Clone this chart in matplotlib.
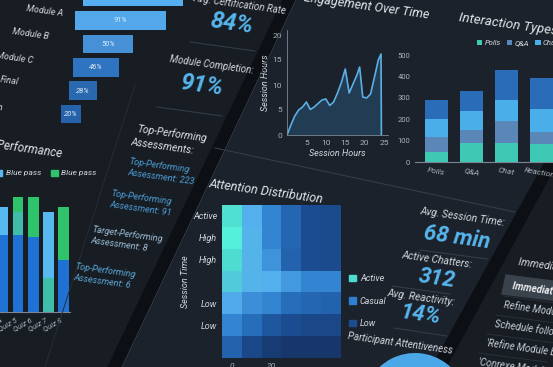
import matplotlib.pyplot as plt
from matplotlib.patches import Polygon, Patch
from matplotlib.lines import Line2D
from matplotlib.colors import LinearSegmentedColormap

# ---- data ----
funnel_stages = ["Enrollment", "Module A", "Module B", "Module C", "Final", "Certification"]
funnel_pct = [100, 91, 50, 46, 28, 20]

quiz_names = ["Quiz 4", "Quiz 5", "Quiz 6", "Quiz 7", "Quiz 8"]
perf_blue = [77, 77, 75, 0, 52]
perf_teal = [0, 23, 0, 34, 0]
perf_light = [28, 0, 0, 66, 0]
perf_green = [0, 15, 40, 0, 53]

eng_x = [0, 1, 2, 3, 4, 5, 6, 7, 8, 9, 10, 11, 12, 13, 14, 15, 16, 17, 18, 18.7,
         19.5, 20.5, 21.5, 22.5, 23.5, 24.2, 24.3]
eng_y = [0, 2, 3.8, 5, 5.6, 6.6, 5.1, 5.6, 6.3, 7.0, 7.2, 5.9, 6.6, 8.4, 10.5, 13.2,
         8.4, 10.2, 12.0, 13.6, 7.6, 7.4, 8.2, 11.5, 15.0, 16.2, 0]

inter_cats = ["Polls", "Q&A", "Chat", "Reactions"]
inter_polls = [45, 90, 90, 85]
inter_qa = [70, 60, 100, 55]
inter_chat = [85, 90, 100, 107]
inter_react = [90, 90, 140, 145]

att_rows = ["Active", "High", "High", "", "Low", "Low", ""]
att_cols = ["0", "", "20", "", "", ""]
att_grid = [
    [0.92, 0.70, 0.55, 0.42, 0.30, 0.28],
    [1.00, 0.72, 0.55, 0.42, 0.30, 0.28],
    [0.90, 0.72, 0.60, 0.40, 0.30, 0.28],
    [0.82, 0.72, 0.70, 0.62, 0.55, 0.55],
    [0.68, 0.58, 0.55, 0.45, 0.42, 0.40],
    [0.55, 0.45, 0.35, 0.30, 0.25, 0.25],
    [0.40, 0.25, 0.15, 0.12, 0.12, 0.12],
]

attentive = [72, 28]

actions = ["Immediate Action Plan", "Refine Module C quiz", "Schedule follow-up",
           "'Refine Module B etc.", "'Conrexe Module 4"]

W, H = 553, 367
def box(x0, y0, x1, y1):
    return [x0 / W, 1 - y1 / H, (x1 - x0) / W, (y1 - y0) / H]
def pt(x, y):
    return (x / W, 1 - y / H)

plt.rcParams['font.family'] = ['Roboto', 'DejaVu Sans']
TXT = '#d3d8de'
TICK = '#a9b1bc'
VAL = '#56b6ee'

fig = plt.figure(figsize=(W / 100, H / 100), dpi=100)
fig.patch.set_facecolor('#181d24')

def ftext(x, y, s, size, color=TXT, rot=-8, weight='normal', ha='center'):
    fig.text(*pt(x, y), s, fontsize=size, color=color, rotation=rot, ha=ha,
             va='center', weight=weight, style='italic', rotation_mode='anchor')

def fline(x0, y0, x1, y1, color='#343c47', lw=0.8):
    fig.add_artist(Line2D([x0 / W, x1 / W], [1 - y0 / H, 1 - y1 / H], color=color, lw=lw,
                          transform=fig.transFigure))

def fpoly(pts, color, z=0):
    fig.add_artist(Polygon([pt(x, y) for x, y in pts], closed=True, color=color,
                           transform=fig.transFigure, zorder=z))

# panel backgrounds and separators
fpoly([(292, 0), (553, 0), (553, 150), (440, 367), (118, 367)], '#1c222b', -5)
fpoly([(283, 0), (296, 0), (122, 367), (108, 367)], '#0c0f14', -4)
fpoly([(560, 135), (572, 135), (446, 367), (432, 367)], '#0c0f14', -4)
fline(296, 0, 122, 367, '#3a4350', 0.6)
fline(215, 148, 515, 212)
fline(135, 85, 45, 367, '#262d37', 0.7)

def style(ax):
    ax.set_facecolor('none')
    for s in ax.spines.values():
        s.set_visible(False)
    ax.tick_params(colors=TICK, labelsize=6, length=0)

# ---- funnel ----
ax_f = fig.add_axes(box(0, -20, 200, 126))
ax_f.axis('off')
ax_f.set_xlim(0, 200)
ax_f.set_ylim(5.51, -0.73)
funnel_colors = ['#55aef0', '#52a8ea', '#4690d8', '#2e74c0', '#2a68b0', '#2662aa']
for i, (stage, pct) in enumerate(zip(funnel_stages, funnel_pct)):
    c = 133 - 12.5 * i
    ax_f.barh(i, pct, left=c - pct / 2, height=0.8, color=funnel_colors[i])
    ax_f.text(c, i, f"{pct}%", color='#e0ecf8', fontsize=5.5, ha='center', va='center',
              style='italic')
    ax_f.text(64 - 15 * (i - 1), i - 0.4, stage, color=TXT, fontsize=6.5, ha='right',
              va='center', style='italic', rotation=-8)

# ---- KPI column 1 ----
ftext(240, 4, "Avg. Certification Rate", 7)
ftext(232, 24, "84%", 17, VAL, weight='bold')
fline(190, 42, 255, 51)
ftext(212, 65, "Module Completion:", 7)
ftext(202, 86, "91%", 17, VAL, weight='bold')
fline(157, 107, 222, 116)
ftext(172, 133, "Top-Performing", 7.5, '#dde2e7')
ftext(162, 146, "Assessments:", 7.5, '#dde2e7')
items = [("Top-Performing\nAssessment: 223", 128, 167, '#4d9fd6'),
         ("Top-Performing\nAssessment: 91", 110, 199, '#4d9fd6'),
         ("Target-Performing\nAssessment: 8", 91, 235, '#9cbfd8'),
         ("Top-Performing\nAssessment: 6", 74, 272, '#5aa7d8')]
for s, x, y, c in items:
    ftext(x, y, s, 6.5, c, ha='left')

# ---- assessment performance ----
ftext(62, 154, "Assessment Performance", 8.5, '#e2e6ea', ha='right')
ax_p = fig.add_axes(box(-6, 192, 70, 312))
style(ax_p)
xs = range(len(quiz_names))
b = [0] * len(quiz_names)
for vals, col in [(perf_blue, '#1f72d4'), (perf_teal, '#3fbcaa'),
                  (perf_light, '#58b8f0'), (perf_green, '#2fc46c')]:
    ax_p.bar(xs, vals, bottom=b, width=0.72, color=col)
    b = [p + q for p, q in zip(b, vals)]
ax_p.set_xlim(-0.6, 4.45)
ax_p.set_ylim(0, 120)
ax_p.set_yticks([])
ax_p.set_xticks(list(xs))
ax_p.set_xticklabels(quiz_names, rotation=30, ha='right', style='italic', fontsize=5.5)
ax_p.spines['bottom'].set_visible(True)
ax_p.spines['bottom'].set_color('#7d8794')
ax_p.legend(handles=[Patch(color='#58b8f0', label='Blue pass'),
                     Patch(color='#2fc46c', label='Blue pass')],
            loc='lower left', bbox_to_anchor=pt(-12, 184), bbox_transform=fig.transFigure,
            ncol=2, frameon=False, handlelength=0.8, handletextpad=0.4,
            columnspacing=1.2, labelcolor=TXT, prop={'style': 'italic', 'size': 6})

# ---- engagement over time ----
ftext(366, 6, "Engagement Over Time", 9, '#e2e6ea')
ax_e = fig.add_axes(box(287, 30, 388, 135))
style(ax_e)
ax_e.plot(eng_x, eng_y, color='#5ab0e6', lw=1.2)
ax_e.fill_between(eng_x, eng_y, color='#2f6f9f', alpha=0.35, lw=0)
ax_e.set_xlim(0, 26)
ax_e.set_ylim(0, 21)
ax_e.set_xticks([5, 10, 15, 20, 25])
ax_e.set_yticks([0, 5, 10, 15, 20])
for s in ['left', 'bottom']:
    ax_e.spines[s].set_visible(True)
    ax_e.spines[s].set_color('#7d8794')
    ax_e.spines[s].set_linewidth(0.6)
ax_e.set_xlabel("Session Hours", color=TXT, fontsize=6.5, style='italic', labelpad=2)
ax_e.set_ylabel("Session Hours", color=TXT, fontsize=6.5, style='italic', labelpad=2)

# ---- interaction types ----
ftext(508, 24, "Interaction Types", 9.5, '#e2e6ea')
ax_i = fig.add_axes(box(415, 55, 563, 162))
style(ax_i)
xi = range(len(inter_cats))
b = [0] * len(inter_cats)
for vals, col, lab in [(inter_polls, '#3ec9b4', 'Polls'), (inter_qa, '#5b87b8', 'Q&A'),
                       (inter_chat, '#4aaee8', 'Chat'), (inter_react, '#2a6cb8', 'Reactions')]:
    ax_i.bar(xi, vals, bottom=b, width=0.66, color=col, label=lab)
    b = [p + q for p, q in zip(b, vals)]
ax_i.set_xlim(-0.6, 3.6)
ax_i.set_ylim(0, 500)
ax_i.set_yticks([0, 100, 200, 300, 400, 500])
ax_i.tick_params(axis='y', labelsize=5.5)
ax_i.set_xticks(list(xi))
ax_i.set_xticklabels(inter_cats, rotation=-10, style='italic')
ax_i.spines['bottom'].set_visible(True)
ax_i.spines['bottom'].set_color('#7d8794')
ax_i.legend(loc='lower left', bbox_to_anchor=pt(470, 53), bbox_transform=fig.transFigure,
            ncol=4, frameon=False, handlelength=0.7, handletextpad=0.3, columnspacing=0.8,
            labelcolor=TXT, prop={'style': 'italic', 'size': 5.5})

# ---- attention distribution ----
ftext(266, 192, "Attention Distribution", 9, '#e2e6ea')
cmap = LinearSegmentedColormap.from_list('att', [(0, '#142a55'), (0.3, '#1c4d92'),
                                                 (0.5, '#2a78c8'), (0.7, '#55b0ee'),
                                                 (0.9, '#4fdcd0'), (1, '#55f0dc')])
ax_h = fig.add_axes(box(222, 205, 340, 358))
style(ax_h)
ax_h.imshow(att_grid, cmap=cmap, vmin=0, vmax=1, aspect='auto', interpolation='nearest')
ax_h.set_yticks(range(len(att_rows)))
ax_h.set_yticklabels(att_rows, style='italic', fontsize=6.5, color=TXT)
ax_h.set_xticks(range(len(att_cols)))
ax_h.set_xticklabels(att_cols, style='italic')
ax_h.set_ylabel("Session Time", color=TXT, fontsize=6.5, style='italic', labelpad=2)
ax_h.legend(handles=[Patch(color='#4fdcd0', label='Active'),
                     Patch(color='#2f7fd0', label='Casual'),
                     Patch(color='#1c4d8e', label='Low')],
            loc='upper left', bbox_to_anchor=pt(341, 266), bbox_transform=fig.transFigure,
            frameon=False, handlelength=0.8, handletextpad=0.4, labelspacing=1.5,
            labelcolor=TXT, prop={'style': 'italic', 'size': 6.5})

# ---- KPI column 2 ----
ftext(462, 217, "Avg. Session Time:", 7.5)
ftext(457, 238, "68 min", 16, VAL, weight='bold')
fline(420, 250, 487, 259)
ftext(437, 260, "Active Chatters:", 7.5)
ftext(437, 279, "312", 16, VAL, weight='bold')
fline(392, 286, 450, 294)
ftext(421, 298, "Avg. Reactivity:", 7.5)
ftext(420, 315, "14%", 16, VAL, weight='bold')
fline(394, 328, 447, 336)
ftext(400, 343, "Participant Attentiveness", 7)
ax_pie = fig.add_axes(box(363, 353, 467, 457))
ax_pie.pie(attentive, colors=['#4aa8e8', '#2a6cb8'], startangle=20)
ax_pie.set_xlim(-1, 1)
ax_pie.set_ylim(-1, 1)
ax_pie.set_aspect('equal')

# ---- action list ----
ftext(518, 262, "Immediate Actions", 7.5, ha='left')
fpoly([(506, 275), (560, 282), (560, 301), (502, 294)], '#3a424c', 1)
for i, s in enumerate(actions):
    y = 286 + 19 * i
    x = 512 - 8.5 * i
    ftext(x, y, s, 7, '#eef1f4' if i == 0 else '#c8ced6', ha='left',
          weight='bold' if i == 0 else 'normal')
    fline(x - 8, y + 10, x + 60, y + 19, '#2c333d', 0.6)

fig.savefig("out.png", dpi=100, facecolor=fig.get_facecolor())
